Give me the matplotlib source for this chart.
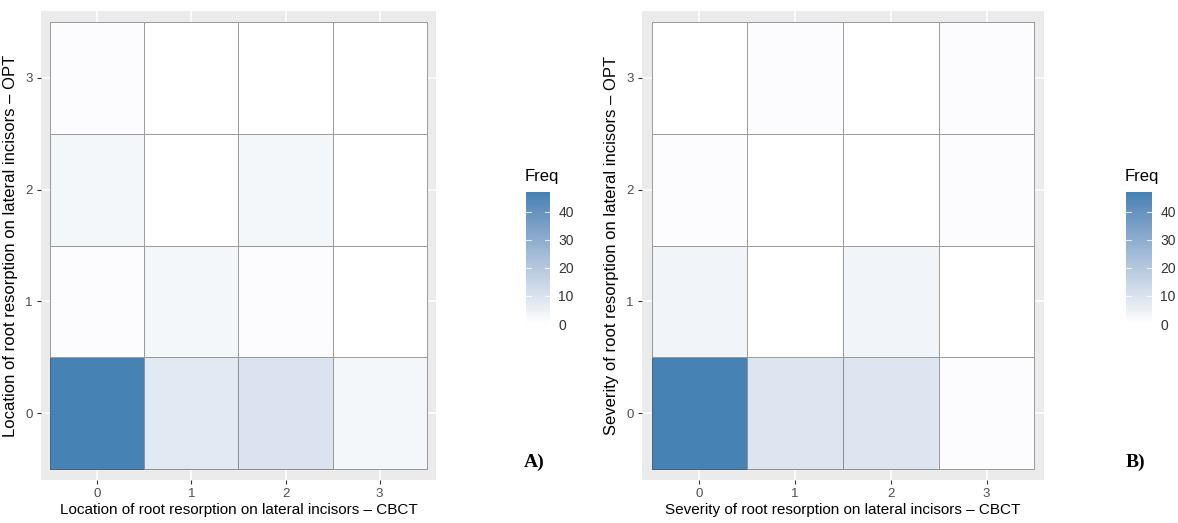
import numpy as np
import matplotlib
matplotlib.use("Agg")
import matplotlib.pyplot as plt
from matplotlib.colors import ListedColormap, Normalize

plt.rcParams['font.family'] = ['Liberation Sans', 'DejaVu Sans']

# ---------------- data ----------------
cbct_levels = [0, 1, 2, 3]
opt_levels = [0, 1, 2, 3]

# rows = OPT level (0..3), columns = CBCT level (0..3)
freq_location = [
    [47, 8, 10, 3],
    [1, 3, 1, 0],
    [3, 0, 3, 0],
    [1, 0, 0, 0],
]
freq_severity = [
    [47, 9, 9, 1],
    [4, 0, 4, 0],
    [1, 0, 0, 1],
    [0, 1, 0, 1],
]
cbar_breaks = [0, 10, 20, 30, 40]

xlabel_a = "Location of root resorption on lateral incisors \u2013 CBCT"
ylabel_a = "Location of root resorption on lateral incisors \u2013 OPT"
xlabel_b = "Severity of root resorption on lateral incisors \u2013 CBCT"
ylabel_b = "Severity of root resorption on lateral incisors \u2013 OPT"
tag_a, tag_b = "A)", "B)"

# ---------------- Lab gradient (like ggplot scale_fill_gradient) ----------------
def srgb_to_lab(rgb):
    rgb = np.asarray(rgb, float)
    lin = np.where(rgb <= 0.04045, rgb / 12.92, ((rgb + 0.055) / 1.055) ** 2.4)
    M = np.array([[0.4124564, 0.3575761, 0.1804375],
                  [0.2126729, 0.7151522, 0.0721750],
                  [0.0193339, 0.1191920, 0.9503041]])
    xyz = lin @ M.T
    wp = np.array([0.95047, 1.0, 1.08883])
    t = xyz / wp
    f = np.where(t > (6 / 29) ** 3, np.cbrt(t), t / (3 * (6 / 29) ** 2) + 4 / 29)
    L = 116 * f[..., 1] - 16
    a = 500 * (f[..., 0] - f[..., 1])
    b = 200 * (f[..., 1] - f[..., 2])
    return np.stack([L, a, b], -1)

def lab_to_srgb(lab):
    lab = np.asarray(lab, float)
    fy_ = (lab[..., 0] + 16) / 116
    fx_ = fy_ + lab[..., 1] / 500
    fz_ = fy_ - lab[..., 2] / 200
    f = np.stack([fx_, fy_, fz_], -1)
    t = np.where(f > 6 / 29, f ** 3, 3 * (6 / 29) ** 2 * (f - 4 / 29))
    xyz = t * np.array([0.95047, 1.0, 1.08883])
    Minv = np.array([[3.2404542, -1.5371385, -0.4985314],
                     [-0.9692660, 1.8760108, 0.0415560],
                     [0.0556434, -0.2040259, 1.0572252]])
    lin = xyz @ Minv.T
    lin = np.clip(lin, 0, 1)
    rgb = np.where(lin <= 0.0031308, 12.92 * lin, 1.055 * lin ** (1 / 2.4) - 0.055)
    return np.clip(rgb, 0, 1)

low = np.array([1.0, 1.0, 1.0])
high = np.array([70, 130, 180]) / 255.0
lab_lo, lab_hi = srgb_to_lab(low), srgb_to_lab(high)
tt = np.linspace(0, 1, 256)[:, None]
cmap = ListedColormap(lab_to_srgb(lab_lo + tt * (lab_hi - lab_lo)))

W, H = 1178, 523
fig = plt.figure(figsize=(W / 100, H / 100), dpi=100)

def fx(px):
    return px / W

def fy(py):
    return 1 - py / H

panel_bg = "#EBEBEB"
tick_col = "#4D4D4D"

def draw_panel(rect, data, xlabel, ylabel, vmax):
    ax = fig.add_axes(rect)
    ax.set_facecolor(panel_bg)
    for s in ax.spines.values():
        s.set_visible(False)
    x = np.asarray(cbct_levels, float)
    y = np.asarray(opt_levels, float)
    xe = np.concatenate([x - 0.5, [x[-1] + 0.5]])
    ye = np.concatenate([y - 0.5, [y[-1] + 0.5]])
    for v in x:
        ax.axvline(v, color="white", lw=1.1, zorder=0)
    for v in y:
        ax.axhline(v, color="white", lw=1.1, zorder=0)
    ax.pcolormesh(xe, ye, np.asarray(data, float), cmap=cmap,
                  norm=Normalize(0, vmax), edgecolors=(0.3, 0.3, 0.3, 0.55),
                  linewidth=0.45, zorder=1)
    ax.set_xlim(xe[0] - 0.1, xe[-1] + 0.1)
    ax.set_ylim(ye[0] - 0.1, ye[-1] + 0.1)
    ax.set_xticks(x)
    ax.set_yticks(y)
    ax.set_xticklabels([str(v) for v in cbct_levels])
    ax.set_yticklabels([str(v) for v in opt_levels])
    ax.tick_params(colors="#333333", labelcolor=tick_col, labelsize=9.5,
                   length=3, width=0.8, pad=3)
    ax.set_xlabel(xlabel, fontsize=11, color="black", labelpad=2)
    ax.set_ylabel(ylabel, fontsize=12, color="black", labelpad=5)
    return ax

def draw_cbar(x0, x1, y0, y1, vmax):
    cax = fig.add_axes([fx(x0), fy(y1), fx(x1 - x0), (y1 - y0) / H])
    grad = np.linspace(0, vmax, 300)[:, None]
    cax.imshow(grad, aspect="auto", cmap=cmap, norm=Normalize(0, vmax),
               origin="lower", extent=[0, 1, 0, vmax])
    cax.set_xlim(0, 1)
    cax.set_ylim(0, vmax)
    for s in cax.spines.values():
        s.set_visible(False)
    cax.set_xticks([])
    cax.yaxis.tick_right()
    cax.set_yticks(cbar_breaks)
    cax.set_yticklabels([str(b) for b in cbar_breaks])
    cax.tick_params(axis="y", length=0, pad=6, labelsize=10, labelcolor="#333333")
    for b in cbar_breaks:
        cax.plot([0, 0.2], [b, b], color="white", lw=0.8, alpha=0.8)
        cax.plot([0.8, 1], [b, b], color="white", lw=0.8, alpha=0.8)
    fig.text(fx(x0 - 1), fy(y0 - 8), "Freq", fontsize=12, ha="left", va="bottom")

vmax = max(np.max(freq_location), np.max(freq_severity))

draw_panel([fx(41), fy(480), fx(436 - 41), (480 - 11) / H],
           freq_location, xlabel_a, ylabel_a, vmax)
draw_panel([fx(642), fy(480), fx(1044 - 642), (480 - 11) / H],
           freq_severity, xlabel_b, ylabel_b, vmax)

draw_cbar(526, 550, 192, 324, vmax)
draw_cbar(1126, 1152, 192, 324, vmax)

fig.text(fx(524), fy(462), tag_a, fontsize=14, fontweight="bold",
         family=["Liberation Serif", "DejaVu Serif"], va="center", ha="left")
fig.text(fx(1126), fy(462), tag_b, fontsize=14, fontweight="bold",
         family=["Liberation Serif", "DejaVu Serif"], va="center", ha="left")

fig.savefig("out.png", dpi=100)
